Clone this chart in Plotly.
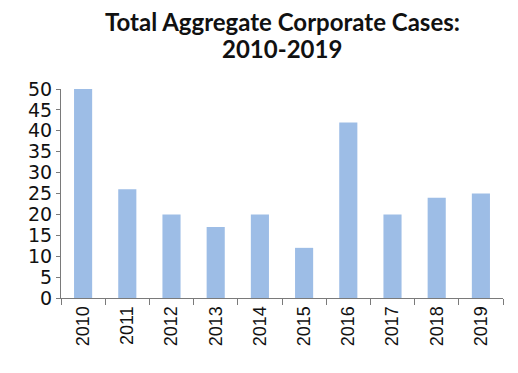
import plotly.graph_objects as go

years = ["2010", "2011", "2012", "2013", "2014", "2015", "2016", "2017", "2018", "2019"]
cases = [50, 26, 20, 17, 20, 12, 42, 20, 24, 25]
y_ticks = [0, 5, 10, 15, 20, 25, 30, 35, 40, 45, 50]
title_lines = ["Total Aggregate Corporate Cases:", "2010-2019"]

W, H = 510, 365  # page body adds an 8px offset
L, R, T, B = 53, 15, 81, 75
plot_h = H - T - B

fig = go.Figure(go.Bar(x=years, y=cases, marker=dict(color="#9dbde6", line=dict(width=0))))

fig.update_layout(
    width=W, height=H,
    margin=dict(l=L, r=R, t=T, b=B),
    paper_bgcolor="white", plot_bgcolor="white",
    bargap=0.59,
    showlegend=False,
)
for line, mid_px in zip(title_lines, [13, 40.5]):
    fig.add_annotation(text=f"<b>{line}</b>", xref="paper", yref="paper", x=0.5, xanchor="center",
                       y=1 + (T - mid_px) / plot_h, yanchor="middle", showarrow=False,
                       font=dict(family="Lato", size=24, color="#111111"))
fig.update_xaxes(type="category", tickson="boundaries", ticks="outside", ticklen=6,
                 tickcolor="#7a7a7a", showline=True, linecolor="#7a7a7a", linewidth=1,
                 tickangle=-90, tickfont=dict(family="Liberation Sans", size=18, color="#111111"),
                 showgrid=False, automargin=False)
fig.update_yaxes(range=[0, 50], tickvals=y_ticks, ticks="outside", ticklen=4,
                 tickcolor="#7a7a7a", showline=True, linecolor="#7a7a7a", linewidth=1,
                 tickfont=dict(family="DejaVu Sans", size=19, color="#111111"),
                 showgrid=False, zeroline=False, automargin=False)

fig.write_html("out.html")
